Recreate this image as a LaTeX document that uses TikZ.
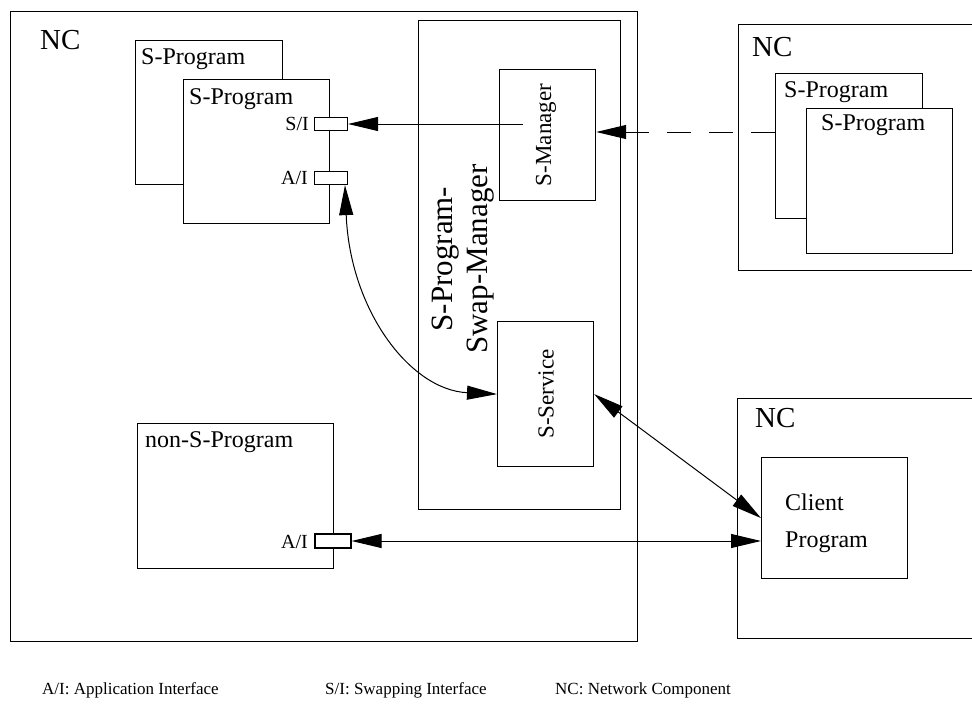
\documentclass[tikz,border=0pt]{standalone}
\usepackage{fontspec}
\setmainfont{Liberation Serif}
\usetikzlibrary{arrows.meta}
\newcommand{\fsz}[1]{\fontsize{#1}{#1}\selectfont}

\begin{document}
\begin{tikzpicture}[x=1pt,y=-1pt]
\tikzstyle{every node}+=[inner sep=0pt]
\tikzstyle{box}=[draw, line width=1.2pt, fill=white, anchor=north west]
\tikzstyle{port}=[draw, line width=1.2pt, fill=white, minimum width=33pt, minimum height=13pt]
\tikzstyle{lbl}=[anchor=base west, font=\fsz{24}]
\tikzstyle{nclbl}=[anchor=base west, font=\fsz{29}]
\tikzstyle{portlbl}=[anchor=base east, font=\fsz{20}]
\tikzstyle{rot}=[rotate=90, font=\fsz{23}]
\tikzstyle{con}=[line width=1pt]
\tikzstyle{arr}=[con, -{Triangle[length=30pt,width=14pt]}]
\tikzstyle{dbl}=[con, {Triangle[length=30pt,width=14pt]}-{Triangle[length=30pt,width=14pt]}]
\clip (0,0) rectangle (972,709);
\fill[white] (0,0) rectangle (972,709);
\node[box, minimum width=627pt, minimum height=630pt] (nc) at (10,11) {};
\node[nclbl] (nctxt) at (40,50) {NC};
\node[box, minimum width=147pt, minimum height=144pt] (spback) at (135,40) {};
\node[lbl] (spbacktxt) at (141,65) {S-Program};
\node[box, minimum width=146pt, minimum height=144pt] (spfront) at (183,79) {};
\node[lbl] (spfronttxt) at (189,104) {S-Program};
\node[port] (siport) at (331,124) {};
\node[port] (aiport) at (331,178) {};
\node[portlbl] (sitxt) at (309,130) {S/I};
\node[portlbl] (aitxt) at (308,184) {A/I};
\node[box, minimum width=202pt, minimum height=489pt] (ssm) at (418,20) {};
\node[rotate=90, align=center, font=\fontsize{31}{35}\selectfont] (ssmtxt) at (463,259) {S-Program-\\Swap-Manager};
\node[box, minimum width=96pt, minimum height=131pt] (smgr) at (499,69) {};
\node[rot] (smgrtxt) at (546,135) {S-Manager};
\node[box, minimum width=96pt, minimum height=145pt] (ssvc) at (497,321) {};
\node[rot] (ssvctxt) at (546,394) {S-Service};
\node[box, minimum width=196pt, minimum height=145pt] (nons) at (137,423) {};
\node[lbl] (nonstxt) at (145,447) {non-S-Program};
\node[port, minimum width=36pt, minimum height=14pt] (aiport2) at (333,541) {};
\node[portlbl] (ai2txt) at (308,548) {A/I};
\node[box, minimum width=260pt, minimum height=246pt] (nctop) at (738,24) {};
\node[nclbl] (nctoptxt) at (752,57) {NC};
\node[box, minimum width=147pt, minimum height=145pt] (rspback) at (775,73) {};
\node[lbl] (rspbacktxt) at (784,98) {S-Program};
\node[box, minimum width=146pt, minimum height=145pt] (rspfront) at (806,108) {};
\node[lbl] (rspfronttxt) at (821,130) {S-Program};
\node[box, minimum width=260pt, minimum height=240pt] (ncbot) at (737,398) {};
\node[nclbl] (ncbottxt) at (755,427) {NC};
\node[box, minimum width=146pt, minimum height=121pt] (client) at (761,457) {};
\node[lbl] (clienttxt) at (785,510) {Client};
\node[lbl] (progtxt) at (785,547) {Program};
\coordinate (smstart) at (523,124);
\coordinate (dashstart) at (775,132);
\draw[arr] (smstart) -- (siport.east);
\draw[arr, dash pattern=on 24pt off 18pt] (dashstart) -- (smgr.east |- dashstart);
\draw[dbl] ([xshift=14pt]aiport.south) .. controls (350,310) and (410,390) .. (ssvc.west);
\draw[dbl] (ssvc.east) -- (client.west);
\draw[dbl] (aiport2.east) -- (client.west |- aiport2.east);
\node[anchor=base west, font=\fsz{17}] (leg1) at (42,694) {A/I: Application Interface};
\node[anchor=base west, font=\fsz{17}] (leg2) at (325,694) {S/I: Swapping Interface};
\node[anchor=base west, font=\fsz{17}] (leg3) at (555,694) {NC: Network Component};
\end{tikzpicture}
\end{document}
